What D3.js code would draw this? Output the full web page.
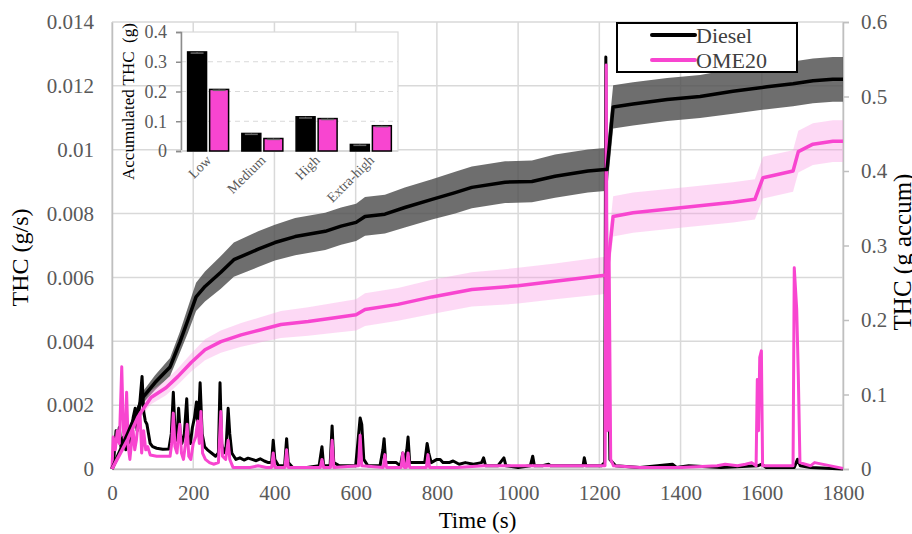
<!DOCTYPE html>
<html>
<head>
<meta charset="utf-8">
<script src="https://cdn.jsdelivr.net/npm/d3@7"></script>
<style>
  html, body { margin: 0; padding: 0; background: #fff; }
  svg { display: block; }
</style>
</head>
<body>
<div id="chart"></div>
<script>
// accumulated THC (g), right axis
const accTime = [0, 39, 76, 106, 143, 167, 187, 207, 229, 268, 300, 360, 401, 451, 525, 564, 601, 623, 672, 721, 788, 845, 886, 968, 1034, 1091, 1172, 1214, 1219, 1234, 1283, 1367, 1448, 1529, 1613, 1677, 1726, 1775, 1800];
const dieselAcc = [0, 0.048, 0.096, 0.116, 0.137, 0.170, 0.200, 0.231, 0.245, 0.264, 0.281, 0.295, 0.304, 0.312, 0.319, 0.326, 0.331, 0.339, 0.342, 0.351, 0.362, 0.371, 0.378, 0.385, 0.386, 0.393, 0.400, 0.402, 0.402, 0.486, 0.490, 0.496, 0.500, 0.507, 0.513, 0.517, 0.521, 0.523, 0.523];
const dieselAccErr = [0, 0.004, 0.008, 0.010, 0.012, 0.014, 0.017, 0.019, 0.020, 0.022, 0.023, 0.024, 0.024, 0.025, 0.025, 0.025, 0.025, 0.026, 0.026, 0.027, 0.027, 0.028, 0.028, 0.028, 0.028, 0.029, 0.029, 0.029, 0.029, 0.029, 0.029, 0.029, 0.029, 0.030, 0.030, 0.030, 0.030, 0.030, 0.030];

const omeTime = [0, 39, 64, 96, 133, 162, 195, 229, 268, 318, 367, 416, 483, 549, 601, 623, 704, 788, 886, 1000, 1091, 1214, 1219, 1234, 1283, 1406, 1529, 1583, 1603, 1628, 1677, 1690, 1726, 1775, 1800];
const omeAcc = [0, 0.040, 0.070, 0.096, 0.109, 0.124, 0.143, 0.160, 0.171, 0.180, 0.187, 0.194, 0.198, 0.203, 0.207, 0.214, 0.221, 0.231, 0.241, 0.246, 0.252, 0.260, 0.262, 0.339, 0.344, 0.351, 0.358, 0.362, 0.391, 0.394, 0.400, 0.426, 0.436, 0.440, 0.440];
const omeAccErr = [0, 0.004, 0.006, 0.009, 0.010, 0.011, 0.012, 0.014, 0.015, 0.016, 0.017, 0.018, 0.019, 0.020, 0.021, 0.022, 0.022, 0.023, 0.023, 0.024, 0.024, 0.025, 0.025, 0.027, 0.027, 0.027, 0.027, 0.027, 0.028, 0.028, 0.028, 0.028, 0.028, 0.028, 0.028];

// instantaneous THC (g/s), left axis
const dieselInstTime = [0, 5, 10, 14, 18, 22, 28, 34, 40, 46, 52, 57, 62, 68, 74, 78, 82, 86, 90, 94, 100, 110, 125, 140, 146, 151, 155, 160, 164, 168, 172, 178, 184, 188, 193, 198, 203, 208, 212, 217, 222, 228, 235, 245, 255, 262, 266, 270, 275, 281, 286, 290, 295, 300, 305, 315, 325, 335, 345, 355, 365, 375, 385, 393, 397, 401, 410, 425, 430, 434, 445, 480, 510, 517, 521, 537, 542, 546, 560, 600, 606, 611, 615, 620, 630, 660, 667, 670, 674, 700, 710, 716, 720, 726, 729, 733, 770, 776, 780, 786, 800, 808, 815, 830, 840, 855, 870, 890, 910, 915, 920, 950, 965, 970, 1000, 1030, 1036, 1040, 1060, 1075, 1080, 1100, 1140, 1160, 1163, 1167, 1205, 1213, 1216, 1219, 1222, 1226, 1240, 1300, 1380, 1390, 1420, 1500, 1590, 1600, 1610, 1680, 1688, 1695, 1720, 1800];
const dieselInst = [0, 0.0004, 0.0012, 0.0009, 0.0013, 0.0007, 0.0010, 0.0006, 0.0011, 0.0008, 0.0016, 0.0019, 0.0012, 0.0020, 0.0029, 0.0018, 0.0015, 0.0014, 0.0011, 0.0008, 0.0007, 0.00065, 0.00062, 0.00063, 0.0011, 0.0024, 0.0012, 0.0009, 0.0019, 0.0011, 0.0008, 0.0011, 0.0022, 0.0010, 0.0008, 0.0013, 0.0016, 0.0021, 0.0012, 0.0027, 0.0011, 0.0007, 0.0006, 0.0005, 0.0004, 0.0005, 0.0027, 0.0008, 0.0005, 0.0007, 0.0019, 0.0011, 0.0005, 0.0004, 0.0003, 0.00035, 0.00028, 0.00034, 0.0003, 0.00026, 0.00032, 0.00025, 0.0002, 0.0002, 0.0009, 0.0003, 0.0001, 0.0001, 0.00095, 0.0002, 0.00005, 0.00005, 0.0001, 0.0007, 0.0001, 0.0001, 0.00135, 0.0002, 0.0001, 0.0001, 0.0009, 0.0016, 0.0014, 0.0003, 0.0001, 0.0001, 0.0006, 0.00095, 0.0002, 0.0002, 0.0001, 0.0005, 0.0002, 0.0006, 0.0010, 0.0002, 0.0002, 0.0008, 0.0005, 0.0002, 0.0003, 0.0003, 0.0002, 0.0002, 0.00025, 0.00015, 0.0002, 0.00015, 0.0002, 0.00035, 0.0001, 0.0001, 0.00035, 0.0001, 0.00005, 0.0001, 0.0004, 0.0001, 0.0001, 0.00015, 0.0001, 0.0001, 0.0001, 0.0001, 0.00035, 0.0001, 0.0001, 0.0002, 0.0129, 0.0040, 0.0045, 0.0003, 0.0001, 0.00005, 0.00015, 0.00005, 0.0001, 0.00005, 0.0001, 0.00015, 0.00005, 0.00005, 0.0003, 0.0001, 0.00005, 0];

const omeInstTime = [0, 3, 8, 13, 18, 24, 28, 32, 36, 40, 44, 48, 52, 56, 60, 64, 69, 73, 78, 83, 88, 94, 110, 135, 143, 147, 151, 155, 160, 164, 167, 171, 176, 181, 185, 189, 194, 200, 206, 211, 215, 219, 223, 230, 240, 250, 262, 268, 272, 280, 286, 290, 298, 340, 360, 380, 393, 397, 401, 426, 430, 434, 513, 517, 521, 538, 542, 546, 607, 611, 615, 668, 672, 676, 712, 716, 720, 725, 729, 733, 774, 778, 782, 850, 915, 965, 1036, 1080, 1163, 1214, 1217, 1220, 1224, 1228, 1235, 1300, 1400, 1490, 1510, 1540, 1560, 1575, 1586, 1589, 1592, 1595, 1599, 1602, 1677, 1680, 1686, 1690, 1694, 1720, 1730, 1800];
const omeInst = [0, 0.0010, 0.0006, 0.0012, 0.0008, 0.0032, 0.0012, 0.0008, 0.0024, 0.0007, 0.0003, 0.0008, 0.0012, 0.0006, 0.0009, 0.0014, 0.00175, 0.0005, 0.0012, 0.0006, 0.0007, 0.00044, 0.0004, 0.0004, 0.0004, 0.0008, 0.00175, 0.0007, 0.0005, 0.0011, 0.0014, 0.0005, 0.0003, 0.0008, 0.0014, 0.0004, 0.0003, 0.0008, 0.0010, 0.0015, 0.0008, 0.0018, 0.0005, 0.0003, 0.0002, 0.00015, 0.0002, 0.0018, 0.0004, 0.0003, 0.0009, 0.0003, 0.00005, 0.00005, 0.0001, 0.00005, 0.00005, 0.0005, 0.00005, 0.00005, 0.0006, 0.00005, 0.00005, 0.0003, 0.00005, 0.00005, 0.0009, 0.00005, 0.0001, 0.00106, 0.0001, 0.00005, 0.00045, 0.00005, 0.00005, 0.0005, 0.00005, 0.00005, 0.0005, 0.00005, 0.00005, 0.00045, 0.00005, 0.00005, 0.0001, 0.0001, 0.0001, 0.0001, 0.0001, 0.0001, 0.01265, 0.0012, 0.0068, 0.0003, 0.0001, 0.00005, 0.00005, 0.0001, 0.00015, 0.0001, 0.00015, 0.0002, 0.0001, 0.0028, 0.0012, 0.0035, 0.0037, 0.0001, 0.0001, 0.0063, 0.0050, 0.0029, 0.0002, 0.0001, 0.0002, 0.00002];

// inset: accumulated THC per phase (g)
const phases = ["Low", "Medium", "High", "Extra-high"];
const fuels = ["Diesel", "OME20"];
const phaseDiesel = [0.333, 0.059, 0.115, 0.022];
const phaseOme = [0.207, 0.042, 0.109, 0.085];
const phaseDieselErr = [0.004, 0.003, 0.004, 0.003];
const phaseOmeErr = [0.003, 0.003, 0.003, 0.003];

const leftTicks = [0, 0.002, 0.004, 0.006, 0.008, 0.01, 0.012, 0.014];
const rightTicks = [0, 0.1, 0.2, 0.3, 0.4, 0.5, 0.6];
const timeTicks = [0, 200, 400, 600, 800, 1000, 1200, 1400, 1600, 1800];
const insetTicks = [0, 0.1, 0.2, 0.3, 0.4];

const FONT = "'Liberation Serif', 'Times New Roman', serif";
const colors = {Diesel: "#000000", OME20: "#f845d0"};
const gridColor = "#d9d9d9";
const labelColor = "#595959";

const W = 912, H = 534;
const svg = d3.select("#chart").append("svg")
    .attr("width", W)
    .attr("height", H)
    .attr("viewBox", `0 0 ${W} ${H}`)
    .attr("font-family", FONT);

const x = d3.scaleLinear().domain([0, 1800]).range([112, 843]);
const yL = d3.scaleLinear().domain([0, 0.014]).range([469, 22]);
const yR = d3.scaleLinear().domain([0, 0.6]).range([469, 22]);

// grid
svg.append("g")
    .selectAll("line")
    .data(leftTicks)
    .enter()
    .append("line")
    .attr("x1", x(0)).attr("x2", x(1800))
    .attr("y1", d => yL(d)).attr("y2", d => yL(d))
    .attr("stroke", gridColor).attr("stroke-width", 1.5);

svg.append("g")
    .selectAll("line")
    .data(timeTicks)
    .enter()
    .append("line")
    .attr("x1", d => x(d)).attr("x2", d => x(d))
    .attr("y1", yL(0)).attr("y2", yL(0.014))
    .attr("stroke", gridColor).attr("stroke-width", 1.5);

// axes
const axisStyle = (g) => {
    g.attr("font-family", FONT).attr("font-size", 21);
    g.selectAll("text").attr("fill", labelColor);
    g.select(".domain").attr("stroke", "#bfbfbf").attr("stroke-width", 1.5);
    g.selectAll(".tick line").attr("stroke", "#bfbfbf").attr("stroke-width", 1.5);
};

svg.append("g")
    .attr("transform", `translate(0,${yL(0)})`)
    .call(d3.axisBottom(x).tickValues(timeTicks).tickSize(0).tickPadding(16).tickFormat(d3.format("d")))
    .call(axisStyle);

svg.append("g")
    .attr("transform", `translate(${x(0)},0)`)
    .call(d3.axisLeft(yL).tickValues(leftTicks).tickSize(0).tickPadding(18).tickFormat(d => d === 0 ? "0" : String(+d.toFixed(3))))
    .call(axisStyle);

svg.append("g")
    .attr("transform", `translate(${x(1800)},0)`)
    .call(d3.axisRight(yR).tickValues(rightTicks).tickSize(6).tickPadding(12).tickFormat(d => d === 0 ? "0" : String(d)))
    .call(axisStyle);

// axis titles
svg.append("text")
    .attr("transform", `translate(28,${(yL(0) + yL(0.014)) / 2 + 12}) rotate(-90)`)
    .attr("text-anchor", "middle")
    .attr("font-size", 24)
    .attr("fill", "#000")
    .text("THC (g/s)");

svg.append("text")
    .attr("x", (x(0) + x(1800)) / 2)
    .attr("y", 528)
    .attr("text-anchor", "middle")
    .attr("font-size", 23)
    .attr("fill", "#000")
    .text("Time (s)");

svg.append("text")
    .attr("transform", "translate(911,252) rotate(-90)")
    .attr("text-anchor", "middle")
    .attr("font-size", 25)
    .attr("fill", "#000")
    .text("THC (g accum)");

// bands for accumulated
const band = (times, vals, errs) => times.map((t, i) => ({t, lo: vals[i] - errs[i], hi: vals[i] + errs[i]}));
const area = d3.area()
    .x(d => x(d.t))
    .y0(d => yR(Math.max(0, d.lo)))
    .y1(d => yR(d.hi));

svg.append("path")
    .datum(band(accTime, dieselAcc, dieselAccErr))
    .attr("d", area)
    .attr("fill", "#4a4a4a")
    .attr("fill-opacity", 0.8);

svg.append("path")
    .datum(band(omeTime, omeAcc, omeAccErr))
    .attr("d", area)
    .attr("fill", "#fb9be6")
    .attr("fill-opacity", 0.38);

// instantaneous lines
const instLine = d3.line().x(d => x(d[0])).y(d => yL(d[1]));
const pairs = (ts, vs) => ts.map((t, i) => [t, vs[i]]);

svg.append("path")
    .datum(pairs(dieselInstTime, dieselInst))
    .attr("d", instLine)
    .attr("fill", "none")
    .attr("stroke", colors.Diesel)
    .attr("stroke-width", 3)
    .attr("stroke-linejoin", "round");

svg.append("path")
    .datum(pairs(omeInstTime, omeInst))
    .attr("d", instLine)
    .attr("fill", "none")
    .attr("stroke", colors.OME20)
    .attr("stroke-width", 3)
    .attr("stroke-linejoin", "round");

// accumulated lines
const accLine = d3.line().x(d => x(d[0])).y(d => yR(d[1]));

svg.append("path")
    .datum(pairs(accTime, dieselAcc))
    .attr("d", accLine)
    .attr("fill", "none")
    .attr("stroke", colors.Diesel)
    .attr("stroke-width", 3.5)
    .attr("stroke-linejoin", "round");

svg.append("path")
    .datum(pairs(omeTime, omeAcc))
    .attr("d", accLine)
    .attr("fill", "none")
    .attr("stroke", colors.OME20)
    .attr("stroke-width", 3.5)
    .attr("stroke-linejoin", "round");

// legend
const legend = svg.append("g").attr("transform", "translate(617,23)");
legend.append("rect")
    .attr("width", 180).attr("height", 49)
    .attr("fill", "#fff").attr("stroke", "#000").attr("stroke-width", 2);
fuels.forEach((f, i) => {
    legend.append("line")
        .attr("x1", 35).attr("x2", 78)
        .attr("y1", 12 + i * 25).attr("y2", 12 + i * 25)
        .attr("stroke", colors[f]).attr("stroke-width", 4)
        .attr("stroke-linecap", "round");
    legend.append("text")
        .attr("x", 79).attr("y", 20 + i * 25)
        .attr("fill", "#404040")
        .attr("font-size", 22)
        .text(f);
});

// inset bar chart
const ix = d3.scaleBand().domain(phases).range([181, 398]);
const isub = d3.scaleBand().domain(fuels).range([6.6, 47.6]).paddingInner(0.14);
const iy = d3.scaleLinear().domain([0, 0.4]).range([151, 32]);

const inset = svg.append("g");
inset.append("rect")
    .attr("x", 181).attr("y", iy(0.4))
    .attr("width", 217).attr("height", iy(0) - iy(0.4))
    .attr("fill", "#fff").attr("stroke", gridColor).attr("stroke-width", 1.2);

inset.append("g")
    .selectAll("line")
    .data([0.1, 0.2, 0.3])
    .enter()
    .append("line")
    .attr("x1", 181).attr("x2", 398)
    .attr("y1", d => iy(d)).attr("y2", d => iy(d))
    .attr("stroke", gridColor).attr("stroke-dasharray", "5,4");

inset.append("g")
    .attr("transform", "translate(181,0)")
    .call(d3.axisLeft(iy).tickValues(insetTicks).tickSize(5).tickPadding(9).tickFormat(d => d === 0 ? "0" : String(d)))
    .call(g => {
        g.attr("font-family", FONT).attr("font-size", 18);
        g.select(".domain").attr("stroke", "#8c8c8c").attr("stroke-width", 1.5);
        g.selectAll(".tick line").attr("stroke", "#8c8c8c").attr("stroke-width", 1.5);
        g.selectAll("text").attr("fill", labelColor);
    });

inset.append("line")
    .attr("x1", 181).attr("x2", 398)
    .attr("y1", iy(0)).attr("y2", iy(0))
    .attr("stroke", gridColor).attr("stroke-width", 2);

const barData = [];
phases.forEach((p, i) => {
    barData.push({phase: p, fuel: "Diesel", v: phaseDiesel[i], e: phaseDieselErr[i]});
    barData.push({phase: p, fuel: "OME20", v: phaseOme[i], e: phaseOmeErr[i]});
});

const bars = inset.append("g")
    .selectAll("g")
    .data(barData)
    .enter()
    .append("g")
    .attr("transform", d => `translate(${ix(d.phase) + isub(d.fuel)},0)`);

bars.append("rect")
    .attr("y", d => iy(d.v))
    .attr("width", isub.bandwidth())
    .attr("height", d => iy(0) - iy(d.v))
    .attr("fill", d => colors[d.fuel])
    .attr("stroke", "#000").attr("stroke-width", 1.5);

bars.append("line")
    .attr("x1", 3).attr("x2", isub.bandwidth() - 3)
    .attr("y1", d => iy(d.v - d.e)).attr("y2", d => iy(d.v - d.e))
    .attr("stroke", "#666").attr("stroke-width", 1.5);

bars.append("line")
    .attr("x1", isub.bandwidth() / 2).attr("x2", isub.bandwidth() / 2)
    .attr("y1", d => iy(d.v - d.e)).attr("y2", d => iy(d.v))
    .attr("stroke", "#666").attr("stroke-width", 1.2);

inset.append("g")
    .selectAll("text")
    .data(phases)
    .enter()
    .append("text")
    .attr("transform", d => `translate(${ix(d) + ix.bandwidth() / 2 + 4},${iy(0) + 10}) rotate(-45)`)
    .attr("text-anchor", "end")
    .attr("fill", labelColor)
    .attr("font-size", 14)
    .text(d => d);

inset.append("text")
    .attr("transform", `translate(134,${(iy(0) + iy(0.4)) / 2 + 10}) rotate(-90)`)
    .attr("text-anchor", "middle")
    .attr("fill", "#000")
    .attr("font-size", 17)
    .attr("xml:space", "preserve")
    .style("white-space", "pre")
    .text("Accumulated THC  (g)");
</script>
</body>
</html>
